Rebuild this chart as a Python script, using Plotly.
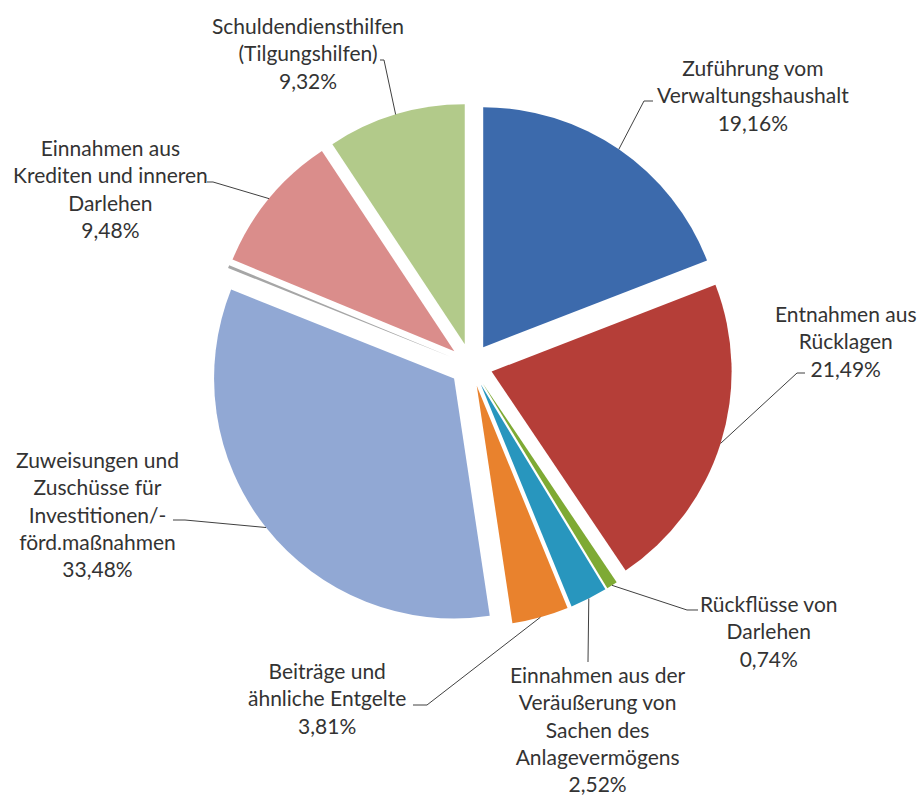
import math
import plotly.graph_objects as go

# ---- data ----
names = [
    "Zuführung vom<br>Verwaltungshaushalt",
    "Entnahmen aus<br>Rücklagen",
    "Rückflüsse von<br>Darlehen",
    "Einnahmen aus der<br>Veräußerung von<br>Sachen des<br>Anlagevermögens",
    "Beiträge und<br>ähnliche Entgelte",
    "Zuweisungen und<br>Zuschüsse für<br>Investitionen/-<br>förd.maßnahmen",
    "",
    "Einnahmen aus<br>Krediten und inneren<br>Darlehen",
    "Schuldendiensthilfen<br>(Tilgungshilfen)",
]
values = [19.16, 21.49, 0.74, 2.52, 3.81, 33.48, 0.2, 9.48, 9.32]
colors = ["#3C6AAC", "#B53E38", "#7EAA34", "#2896BE", "#E9822D",
          "#91A8D4", "#A6A6A6", "#DA8D8B", "#B2CA8A"]
show_label = [True, True, True, True, True, True, False, True, True]

# ---- layout constants (pixels) ----
W, H = 923, 798
CX, CY = 471, 365          # pie centre
R = 240                    # pie radius
PULL = 0.09                # explode fraction
FONT = dict(family="Lato, 'Open Sans', sans-serif", size=21, color="#333333")
LINE_COLOR = "#404040"

# label block centres and leader-line elbows / ends (pixels)
label_pos = [(753, 95), (846, 341), (769, 631), (598, 729), (327, 698),
             (97, 514), None, (110, 188), (308, 53)]
leader_pts = [
    [(644, 101), (653, 101)],
    [(797, 373), (805, 373)],
    [(687, 610), (698, 610)],
    [(588, 662)],
    [(427, 705), (413, 705)],
    [(185, 520), (173, 520)],
    None,
    [(213, 182), (207, 182)],
    [(384, 60), (380, 60)],
]

def px(x):
    return x / W

def py(y):
    return 1 - y / H

outer = R * (1 + PULL)
fig = go.Figure(go.Pie(
    values=values,
    labels=[f"s{i}" for i in range(len(values))],
    sort=False,
    direction="clockwise",
    rotation=0,
    pull=PULL,
    marker=dict(colors=colors, line=dict(width=0)),
    textinfo="none",
    hoverinfo="skip",
    showlegend=False,
    domain=dict(x=[px(CX - outer), px(CX + outer)],
                y=[py(CY + outer), py(CY - outer)]),
))

total = sum(values)
cum = 0.0
shapes = []
annotations = []
for i, v in enumerate(values):
    mid = (cum + v / 2) / total * 2 * math.pi
    cum += v
    if not show_label[i]:
        continue
    ax = CX + outer * math.sin(mid)
    ay = CY - outer * math.cos(mid)
    pts = [(ax, ay)] + leader_pts[i]
    path = "M " + " L ".join(f"{px(x):.5f},{py(y):.5f}" for x, y in pts)
    shapes.append(dict(type="path", xref="paper", yref="paper", path=path,
                       line=dict(color=LINE_COLOR, width=1)))
    pct = f"{v:.2f}".replace(".", ",") + "%"
    lx, ly = label_pos[i]
    annotations.append(dict(
        x=px(lx), y=py(ly), xref="paper", yref="paper",
        xanchor="center", yanchor="middle", align="center",
        text=names[i] + "<br>" + pct, showarrow=False, font=FONT,
    ))

fig.update_layout(
    width=W, height=H,
    margin=dict(l=0, r=0, t=0, b=0),
    paper_bgcolor="white", plot_bgcolor="white",
    shapes=shapes, annotations=annotations,
)

fig.write_html(
    "out.html",
    config={"displayModeBar": False},
    post_script="document.body.style.margin='0';document.body.style.overflow='hidden';",
)
